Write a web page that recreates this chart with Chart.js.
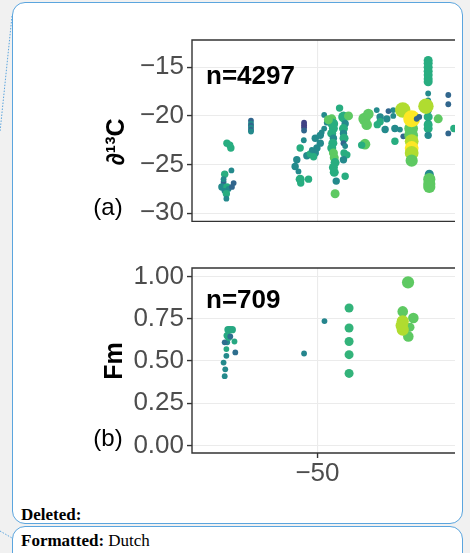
<!DOCTYPE html>
<html>
<head>
<meta charset="utf-8">
<script src="https://cdn.jsdelivr.net/npm/chart.js@4.4.1/dist/chart.umd.min.js"></script>
<style>
  html, body { margin: 0; padding: 0; width: 470px; height: 553px; overflow: hidden; background: #f1f1f1; position: relative; }
  .box { position: absolute; left: 12px; width: 451px; box-sizing: border-box; border: 1.5px solid #5ba5de; border-radius: 13px; background: #fff; }
  #box1 { top: 2px; height: 522px; }
  #box2 { top: 526px; height: 40px; }
  svg { position: absolute; left: 0; top: 0; }
  canvas { position: absolute; left: 0; }
  #c1 { top: 0; }
  #c2 { top: 240px; }
  .note { position: absolute; left: 21px; font: 17px "Liberation Serif", "Times New Roman", serif; color: #000; }
</style>
</head>
<body>
<div class="box" id="box1"></div>
<div class="box" id="box2"></div>
<svg width="470" height="553">
  <line x1="12" y1="16" x2="0" y2="132" stroke="#5ba5de" stroke-width="1" stroke-dasharray="1.5,1.5"/>
  <line x1="0" y1="531" x2="12" y2="538" stroke="#5ba5de" stroke-width="1" stroke-dasharray="1.5,1.5"/>
</svg>
<div class="note" style="top:505px"><b>Deleted:</b></div>
<div class="note" style="top:531px"><b>Formatted:</b> Dutch</div>
<canvas id="c1" width="470" height="240"></canvas>
<canvas id="c2" width="470" height="260"></canvas>
<script>
// x axis (shared)
const X_TICKS = [-50]
const X_LABELS = ['\u221250']

// panel (a): d13C
const A_Y_TICKS = [-30, -25, -20, -15]
const A_Y_LABELS = ['\u221230', '\u221225', '\u221220', '\u221215']
const aX = [
  -82.4, -81.4, -81.0, -80.8, -83.2, -83.6, -84.2, -82.4, -81.8, -80.0, -80.6, -83.3, -82.6, -82.6, -83.6,
  -73.8, -73.8, -73.8, -73.8, -73.8, -73.8,
  -54.8, -54.8, -54.8, -54.8, -54.9,
  -56.2, -57.4, -58.0, -56.8, -56.2, -56.0, -53.2, -53.8, -52.6, -50.8, -50.2, -50.8, -49.0, -48.5, -47.6, -47.6, -46.7, -49.0, -51.4, -52.0,
  -44.9, -44.5, -44.3, -44.9, -44.3, -44.5, -44.9, -44.3, -44.0, -43.7, -44.3, -44.0, -43.3, -43.7, -42.1, -46.1,
  -40.7, -38.9, -40.1, -40.7, -40.7, -40.5, -40.7, -40.1, -40.5, -39.5, -40.7, -40.1,
  -33.2, -32.4, -31.8, -33.0, -34.2, -28.8, -27.6, -27.6, -28.6, -25.8, -25.2, -22.9, -22.3, -20.5, -22.3, -19.3, -24.6, -22.9,
  -19.5, -16.5, -16.5, -16.3, -16.3, -16.3, -16.3, -16.3, -13.6, -14.5,
  -10.4, -10.4, -10.4, -10.4, -10.4, -10.4, -10.4, -10.4, -10.4, -10.4, -10.4, -10.4, -10.4, -10.4, -10.4, -11.2, -10.0, -10.0, -10.0, -10.0,
  -6.8, -3.2, -3.2, -3.2, -1.2
]
const aY = [
  -22.8, -23.0, -23.3, -25.6, -26.0, -26.8, -27.3, -27.3, -27.5, -26.9, -27.3, -27.7, -28.0, -28.5, -26.5,
  -20.5, -20.8, -21.0, -21.2, -21.45, -21.6,
  -20.7, -20.95, -21.2, -21.5, -22.5,
  -23.3, -24.5, -25.2, -25.7, -26.5, -26.9, -26.5, -24.1, -23.9, -23.8, -23.3, -22.3, -22.0, -21.7, -21.3, -19.9, -20.7, -22.8, -24.2, -23.5,
  -20.3, -20.8, -21.3, -21.8, -22.3, -22.8, -23.3, -23.8, -24.3, -24.8, -25.3, -25.8, -26.7, -28.0, -19.2, -20.4,
  -20.1, -20.0, -20.8, -21.3, -21.8, -22.3, -22.8, -23.1, -23.8, -24.0, -24.5, -26.2,
  -20.3, -20.9, -19.8, -22.9, -23.0, -19.4, -20.1, -20.6, -20.9, -21.4, -20.3, -20.0, -21.3, -21.4, -22.6, -22.1, -19.5, -19.4,
  -19.4, -21.3, -22.0, -22.6, -23.3, -23.8, -24.6, -20.3, -20.1, -20.3,
  -14.3, -14.6, -15.0, -15.4, -15.8, -16.2, -16.5, -17.7, -18.4, -19.4, -20.1, -20.8, -21.3, -22.0, -20.9, -19.0, -26.0, -26.5, -27.0, -27.3,
  -20.3, -17.85, -18.8, -21.8, -21.3
]
// colour variable (0..1 on the viridis scale)
const aC = [
  .62, .62, .62, .47, .62, .33, .47, .62, .47, .33, .33, .47, .62, .47, .47,
  .33, .47, .33, .47, .33, .47,
  .2, .2, .2, .33, .47,
  .62, .47, .47, .47, .62, .62, .62, .47, .62, .47, .47, .47, .47, .47, .47, .47, .47, .47, .62, .47,
  .75, .62, .62, .62, .47, .62, .62, .75, .75, .62, .62, .62, .47, .75, .62, .75,
  .62, .75, .47, .62, .47, .62, .33, .47, .62, .62, .47, .62,
  .75, .75, .75, .75, .62, .47, .47, .62, .62, .47, .47, .47, .47, .47, .62, .33, .33, .47,
  .88, .75, .75, .88, 1, .88, .75, 1, .33, .33,
  .62, .62, .62, .62, .62, .62, .62, .47, .47, .47, .62, .47, .62, .47, .62, .88, .47, .75, .75, .75,
  .75, .33, .33, .33, .62
]
// size variable
const aS = [
  2, 2, 2, 1, 2, 1, 2, 2, 1, 1, 1, 1, 2, 1, 1,
  1, 1, 1, 1, 1, 1,
  1, 1, 1, 1, 1,
  2, 2, 2, 1, 3, 2, 2, 2, 2, 2, 2, 2, 2, 1, 1, 1, 1, 2, 2, 1,
  3, 4, 3, 3, 2, 3, 3, 3, 3, 3, 3, 3, 2, 3, 2, 3,
  4, 3, 2, 3, 2, 3, 1, 1, 2, 2, 2, 2,
  5, 4, 4, 4, 2, 1, 2, 2, 2, 2, 2, 1, 2, 1, 2, 1, 1, 1,
  7, 6, 6, 6, 6, 6, 5, 8, 1, 1,
  3, 3, 3, 3, 3, 3, 3, 1, 1, 2, 3, 2, 3, 2, 3, 7, 3, 5, 5, 5,
  3, 1, 1, 1, 2
]

// panel (b): Fm
const B_Y_TICKS = [0, 0.25, 0.5, 0.75, 1]
const B_Y_LABELS = ['0.00', '0.25', '0.50', '0.75', '1.00']
const bX = [
  -83.6, -83.0, -83.2, -82.6, -82.6, -82.3, -83.2, -81.8, -81.4, -82.3, -81.2, -79.4, -79.7, -82.0, -80.5,
  -54.8, -47.5,
  -38.7, -38.7, -38.7, -38.7, -38.7,
  -17.6, -19.5, -15.7, -17.5, -16.9, -19.5, -19.5, -19.9
]
const bY = [
  0.49, 0.45, 0.41, 0.53, 0.57, 0.61, 0.61, 0.64, 0.685, 0.65, 0.645, 0.55, 0.615, 0.685, 0.685,
  0.544, 0.736,
  0.813, 0.695, 0.615, 0.537, 0.426,
  0.965, 0.793, 0.754, 0.645, 0.70, 0.734, 0.685, 0.71
]
const bC = [
  .47, .47, .47, .47, .6, .47, .36, .6, .6, .6, .36, .36, .6, .6, .6,
  .45, .45,
  .65, .65, .65, .65, .65,
  .75, .75, .75, .75, .75, .88, .88, .88
]
const bS = [
  1, 1, 1, 1, 1, 1, 1, 2, 2, 2, 1, 1, 1, 2, 2,
  1, 1,
  3, 3, 3, 3, 3,
  5, 4, 4, 4, 3, 5, 5, 5
]

const FONT = '"Liberation Sans", Arial, Helvetica, sans-serif'
const VIRIDIS = ['#440154', '#472d7b', '#3b528b', '#2c728e', '#21918c', '#28ae80', '#5ec962', '#addc30', '#fde725']
const hex = h => [1, 3, 5].map(k => parseInt(h.slice(k, k + 2), 16))
function viridis(t) {
    const p = t * (VIRIDIS.length - 1)
    const i = Math.min(Math.floor(p), VIRIDIS.length - 2)
    const f = p - i
    const a = hex(VIRIDIS[i]), b = hex(VIRIDIS[i + 1])
    return `rgb(${a.map((v, k) => Math.round(v + (b[k] - v) * f)).join(',')})`
}
const radius = s => 2.1 + 0.8 * s

// panel border, n label, panel tag and rotated y title
const deco = cfg => ({
    id: 'deco',
    afterDatasetsDraw(chart) {
        const {ctx, chartArea: a} = chart
        ctx.save()
        ctx.strokeStyle = '#333'
        ctx.lineWidth = 1.4
        ctx.beginPath()
        ctx.moveTo(a.right, a.top)
        ctx.lineTo(a.left, a.top)
        ctx.lineTo(a.left, a.bottom)
        ctx.lineTo(a.right, a.bottom)
        ctx.stroke()

        ctx.fillStyle = '#000'
        ctx.font = 'bold 26px ' + FONT
        ctx.textAlign = 'left'
        ctx.textBaseline = 'alphabetic'
        ctx.fillText(cfg.nLabel, a.left + 14, a.top + cfg.nDy)

        ctx.font = '24px ' + FONT
        ctx.textAlign = 'center'
        ctx.textBaseline = 'middle'
        ctx.fillText(cfg.tag, 108, cfg.tagY)

        ctx.translate(cfg.titleX, cfg.titleY)
        ctx.rotate(-Math.PI / 2)
        ctx.font = 'bold 25px ' + FONT
        ctx.fillText(cfg.title, 0, 0)
        ctx.restore()
    }
})

function makePanel(id, cfg) {
    const radii = cfg.s.map(radius)
    return new Chart(document.getElementById(id), {
        type: 'scatter',
        data: {
            datasets: [{
                data: cfg.x.map((v, i) => ({x: v, y: cfg.y[i]})),
                pointBackgroundColor: cfg.c.map(viridis),
                pointRadius: radii,
                pointHoverRadius: radii,
                pointBorderWidth: 0,
                borderWidth: 0
            }]
        },
        options: {
            responsive: false,
            animation: false,
            devicePixelRatio: 1,
            layout: {padding: cfg.pad},
            plugins: {legend: {display: false}, tooltip: {enabled: false}},
            scales: {
                x: {
                    type: 'linear',
                    min: -94.9,
                    max: -0.8,
                    afterBuildTicks: s => { s.ticks = X_TICKS.map(v => ({value: v})) },
                    afterFit: s => { s.height = cfg.xHeight },
                    grid: {color: '#ebebeb', lineWidth: 1.1, drawTicks: cfg.showX, tickLength: 5, tickColor: '#333', tickWidth: 1.4},
                    border: {display: false},
                    ticks: {
                        display: cfg.showX,
                        padding: 0,
                        color: '#4d4d4d',
                        font: {family: FONT, size: 26},
                        callback: (v, i) => X_LABELS[i]
                    }
                },
                y: {
                    type: 'linear',
                    min: cfg.yMin,
                    max: cfg.yMax,
                    afterBuildTicks: s => { s.ticks = cfg.yTicks.map(v => ({value: v})) },
                    afterFit: s => { s.width = 192 },
                    grid: {color: '#ebebeb', lineWidth: 1.1, drawTicks: true, tickLength: 5, tickColor: '#333', tickWidth: 1.4},
                    border: {display: false},
                    ticks: {
                        padding: 3,
                        color: '#4d4d4d',
                        font: {family: FONT, size: 26},
                        callback: (v, i) => cfg.yLabels[i]
                    }
                }
            }
        },
        plugins: [deco(cfg)]
    })
}

makePanel('c1', {
    x: aX, y: aY, c: aC, s: aS,
    yMin: -30.84, yMax: -12.2, yTicks: A_Y_TICKS, yLabels: A_Y_LABELS,
    showX: false, xHeight: 0,
    pad: {left: 0, top: 40, right: 15, bottom: 16},
    nLabel: 'n=4297', nDy: 44,
    tag: '(a)', tagY: 208,
    title: '\u2202\u00b9\u00b3C', titleX: 117, titleY: 142
})

makePanel('c2', {
    x: bX, y: bY, c: bC, s: bS,
    yMin: -0.045, yMax: 1.05, yTicks: B_Y_TICKS, yLabels: B_Y_LABELS,
    showX: true, xHeight: 40,
    pad: {left: 0, top: 28, right: 15, bottom: 7},
    nLabel: 'n=709', nDy: 40,
    tag: '(b)', tagY: 199,
    title: 'Fm', titleX: 115, titleY: 121
})
</script>
</body>
</html>
